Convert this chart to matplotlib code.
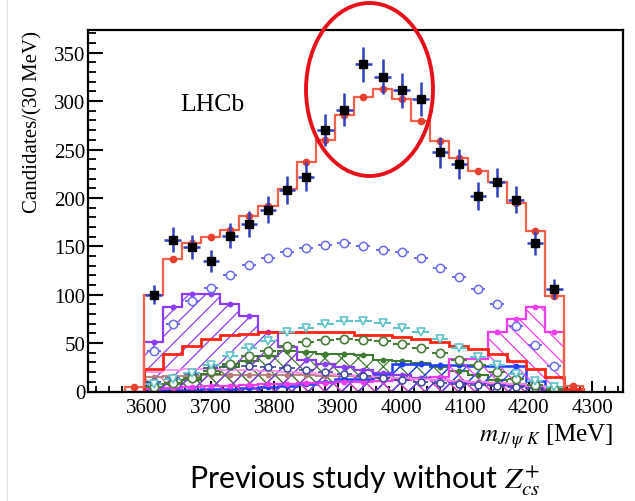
import numpy as np
import matplotlib
matplotlib.use('Agg')
import matplotlib.pyplot as plt
from matplotlib.patches import Ellipse
from matplotlib.lines import Line2D
from matplotlib.ticker import MultipleLocator

plt.rcParams['font.family'] = ['Liberation Serif', 'DejaVu Serif']
plt.rcParams['mathtext.fontset'] = 'stix'
plt.rcParams['hatch.linewidth'] = 0.9

# ---------------- data ----------------
# bin centres (MeV), 30 MeV bins, including the two almost-empty edge bins
mass_all = [3580, 3610, 3640, 3670, 3700, 3730, 3760, 3790, 3820, 3850, 3880, 3910,
            3940, 3970, 4000, 4030, 4060, 4090, 4120, 4150, 4180, 4210, 4240, 4270]
mass = mass_all[1:-1]

data = [100, 157, 149, 135, 161, 173, 188, 208, 222, 270, 291, 338,
        325, 311, 302, 247, 235, 202, 216, 198, 153, 106]

total_fit = [5, 100, 137, 153, 160, 167, 181, 192, 209, 237, 260, 286,
             304, 313, 302, 279, 259, 241, 228, 216, 195, 166, 99, 6]

comp_blue_circles = [42, 70, 93, 107, 120, 131, 138, 144, 148, 151, 153, 150,
                     146, 144, 138, 128, 118, 106, 90, 68, 48, 26]
comp_cyan_triangles = [8, 13, 19, 27, 37, 45, 52, 61, 66, 70, 73, 73,
                       71, 66, 61, 54, 45, 36, 27, 18, 11, 5]
comp_green_circles = [5, 9, 14, 21, 28, 37, 42, 47, 51, 53, 54, 53,
                      52, 49, 45, 40, 33, 27, 20, 13, 7, 3]
comp_navy_circles = [10, 14, 18, 24, 26, 26, 25, 24, 22, 20, 18, 16,
                     14, 12, 10, 9, 8, 7, 6, 5, 4, 3]

comp_purple = [0, 51, 87, 101, 101, 90, 78, 61, 46, 33, 28, 25,
               22, 19, 17, 14, 12, 10, 9, 7, 6, 5, 3, 0]
comp_red = [0, 23, 39, 47, 54, 58, 59, 61, 61, 61, 61, 61,
            58, 58, 56, 54, 51, 47, 44, 39, 32, 23, 15, 3]
comp_green_hatch = [0, 5, 8, 12, 18, 25, 32, 37, 42, 41, 39, 39,
                    38, 33, 31, 29, 25, 21, 17, 12, 8, 4, 2, 0]
comp_blue_hatch = [0, 1, 2, 2, 3, 3, 4, 5, 6, 8, 10, 13,
                   13, 18, 28, 28, 27, 27, 26, 26, 26, 11, 5, 0]
comp_magenta = [0, 3, 4, 5, 6, 6, 7, 8, 8, 9, 9, 10,
                10, 11, 12, 13, 15, 34, 34, 61, 75, 87, 61, 2]
comp_brown = [0, 15, 16, 16, 17, 17, 17, 17, 17, 17, 16, 16,
              15, 15, 14, 13, 12, 11, 10, 9, 8, 6, 4, 0]
comp_pink = [0, 20, 22, 23, 23, 22, 22, 21, 20, 19, 18, 17,
             16, 15, 14, 13, 12, 11, 10, 9, 8, 6, 4, 0]

# ---------------- figure ----------------
W, H = 635, 502
fig = plt.figure(figsize=(W / 100, H / 100), dpi=100)
ax = fig.add_axes([88 / W, 1 - 392.5 / H, (623 - 88) / W, (392.5 - 30.5) / H])

centres = np.array(mass_all, dtype=float)
half = 15.0
edges = np.append(centres - half, centres[-1] + half)

# hatched component histograms
hatched = [
    (comp_brown, '#b97a7a', 'xx', 1.3),
    (comp_green_hatch, '#3f7a33', 'xx', 1.5),
    (comp_blue_hatch, '#1f3cff', '//', 1.8),
    (comp_magenta, '#f03cf0', '\\\\', 1.6),
    (comp_purple, '#8c3cf2', '//', 1.6),
]
for vals, col, hat, lw in hatched:
    ax.stairs(vals, edges, fill=True, facecolor='none', edgecolor=col,
              hatch=hat, linewidth=lw, zorder=2)
    ax.plot(mass_all[1:-1], vals[1:-1], 'o', color=col, ms=3.2, zorder=2.1)

ax.stairs(comp_pink, edges, color='#ff8af0', lw=1.2, zorder=2.2)
ax.stairs(comp_red, edges, color='#ff2414', lw=2.0, zorder=2.5)

# marker-type components
ax.errorbar(mass, comp_navy_circles, xerr=12, fmt='o', mfc='white', mec='#3a4a9a',
            ecolor='#3a4a9a', ms=5, mew=1.1, elinewidth=1.2, zorder=3)
ax.errorbar(mass, comp_green_circles, xerr=13, fmt='o', mfc='white', mec='#4b7d3a',
            ecolor='#4b7d3a', ms=6, mew=1.2, elinewidth=1.5, zorder=3)
ax.errorbar(mass, comp_cyan_triangles, xerr=13, fmt='v', mfc='white', mec='#62c4c8',
            ecolor='#62c4c8', ms=6, mew=1.2, elinewidth=1.5, zorder=3)
ax.errorbar(mass, comp_blue_circles, xerr=11, fmt='o', mfc='white', mec='#6b6bf0',
            ecolor='#6b6bf0', ms=6, mew=1.1, elinewidth=1.4, zorder=3)

# total fit
ax.stairs(total_fit, edges, color='#f2604c', lw=1.6, zorder=4)
ax.plot(mass_all, total_fit, 'o', color='#e8402e', ms=4.5, zorder=4.1)

# data
ax.errorbar(mass, data, yerr=np.sqrt(data), xerr=13, fmt='s', mfc='black', mec='black',
            ms=6, ecolor='#2f3fbf', elinewidth=1.8, capsize=0, zorder=5)

# axes styling
ax.set_xlim(3507, 4348)
ax.set_ylim(0, 374)
ax.xaxis.set_major_locator(MultipleLocator(100))
ax.xaxis.set_minor_locator(MultipleLocator(20))
ax.yaxis.set_major_locator(MultipleLocator(50))
ax.yaxis.set_minor_locator(MultipleLocator(10))
ax.tick_params(axis='both', which='both', direction='in', top=False, right=False, color='black')
ax.tick_params(axis='x', which='major', length=8, width=1.5, labelsize=15, pad=5)
ax.tick_params(axis='x', which='minor', length=4, width=1.3)
ax.tick_params(axis='y', which='major', length=11, width=1.5, labelsize=15, pad=2)
ax.tick_params(axis='y', which='minor', length=5.5, width=1.3)
for s in ax.spines.values():
    s.set_linewidth(1.6)
    s.set_zorder(10)

fig.text(33 / W, 1 - 122 / H, 'Candidates/(30 MeV)', rotation=90,
         ha='center', va='center', fontsize=15)
fig.text(613 / W, 1 - 437 / H, r'$m_{J/\,\psi\ K}$ [MeV]', ha='right', va='center',
         fontsize=18)
fig.text(180 / W, 1 - 105 / H, 'LHCb', ha='left', va='center', fontsize=18.5)
fig.text(365 / W, 1 - 481 / H, r'Previous study without $Z_{cs}^{+}$', ha='center',
         va='center', fontsize=21.8, family=['Lato', 'DejaVu Sans'])

# highlight ellipse (in figure pixel fractions)
fig.add_artist(Ellipse((369.5 / W, 1 - 90.5 / H), 127 / W, 173 / H,
                       transform=fig.transFigure, fill=False, ec='#e8101a', lw=2.8,
                       zorder=20))
fig.add_artist(Line2D([6.5 / W, 6.5 / W], [0, 1], color='#e2e2e2', lw=0.8))

fig.savefig('out.png', dpi=100)
